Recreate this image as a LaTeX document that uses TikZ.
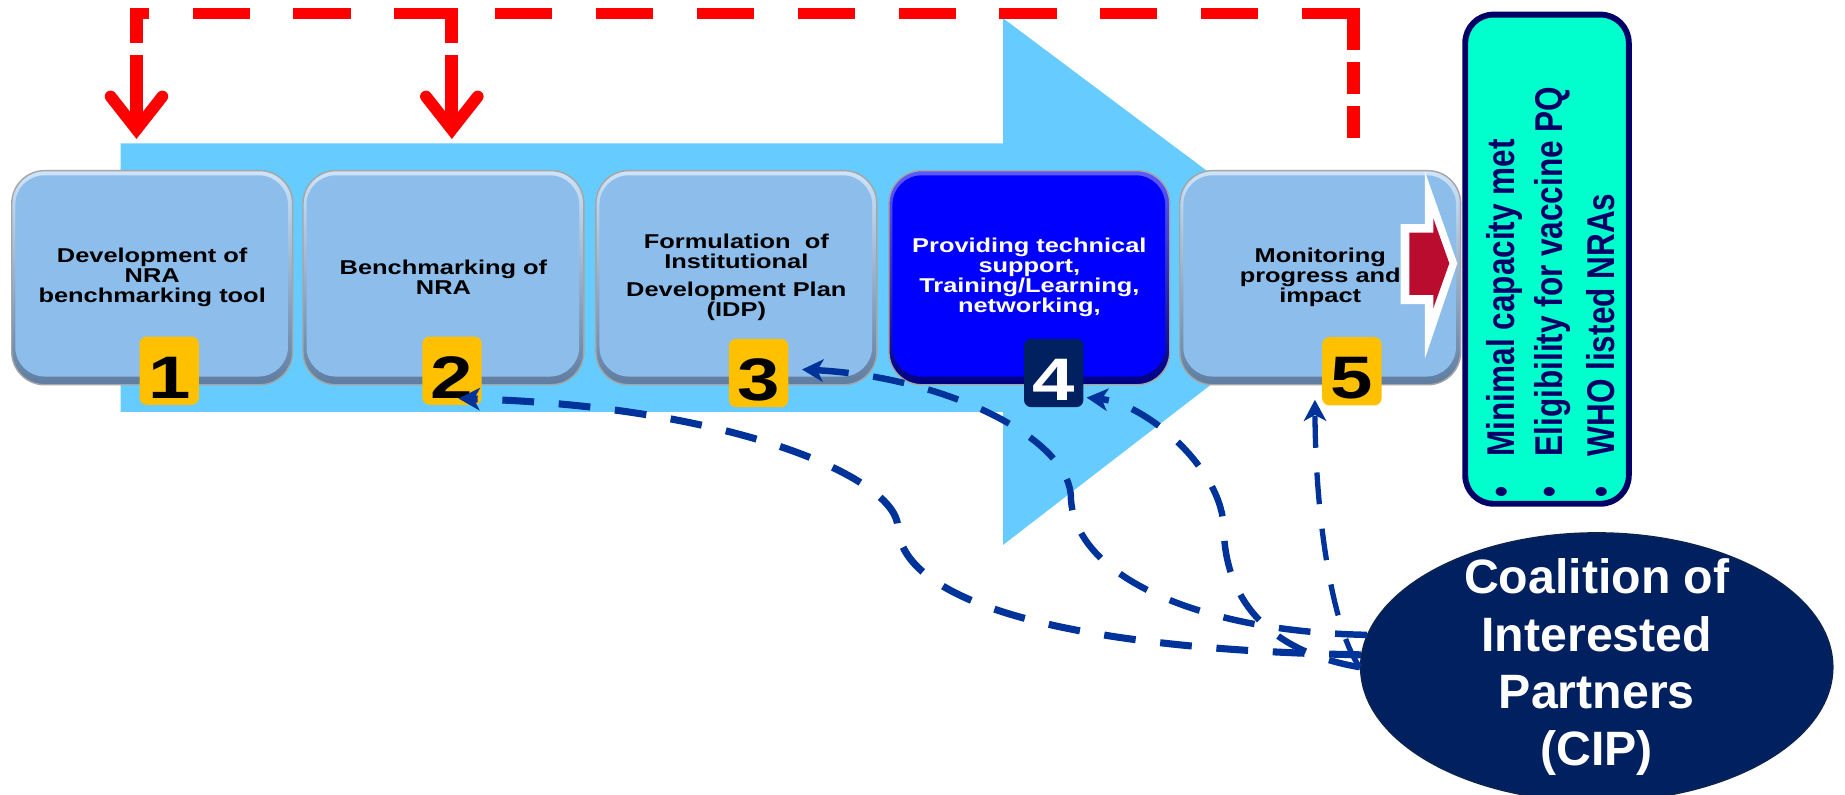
\documentclass[tikz,border=0pt]{standalone}
\usepackage{graphicx}
\usepackage{fontspec}
\setmainfont{Liberation Sans}
\newfontfamily\widebold[FakeStretch=1.27]{Liberation Sans Bold}
\newfontfamily\plainbold{Liberation Sans Bold}
\usetikzlibrary{shapes.geometric,arrows.meta}

\definecolor{flowblue}{RGB}{102,204,255}
\definecolor{stepfill}{RGB}{141,189,235}
\definecolor{stephi}{RGB}{205,228,250}
\definecolor{steplo}{RGB}{95,125,160}
\definecolor{stepedge}{RGB}{165,165,165}
\definecolor{activefill}{RGB}{0,0,255}
\definecolor{activehi}{RGB}{90,90,255}
\definecolor{activelo}{RGB}{0,0,130}
\definecolor{badgegold}{RGB}{255,192,0}
\definecolor{navy}{RGB}{0,32,96}
\definecolor{navyedge}{RGB}{10,35,80}
\definecolor{linkblue}{RGB}{0,51,153}
\definecolor{feedbackred}{RGB}{255,0,0}
\definecolor{outcometeal}{RGB}{0,255,204}
\definecolor{outcomenavy}{RGB}{0,0,102}
\definecolor{crimson}{RGB}{186,12,47}

\begin{document}
\begin{tikzpicture}[x=1pt,y=-1pt,
  stepbox/.style={rectangle, rounded corners=28pt, minimum width=238.7pt,
    minimum height=182pt, inner sep=0pt, align=center,
    font=\widebold\fontsize{17}{17}\selectfont,
    top color=stephi, bottom color=steplo, draw=stepedge, line width=1.2pt,
    path picture={\fill[#1, rounded corners=25pt]
      ([shift={(3pt,-4pt)}]path picture bounding box.north west) rectangle
      ([shift={(-4pt,7pt)}]path picture bounding box.south east);}},
  stepbox/.default=stepfill,
  badge/.style={rectangle, rounded corners=6pt, minimum width=50.4pt,
    minimum height=58pt, inner sep=0pt, fill=badgegold, text=black,
    font=\widebold\fontsize{51}{51}\selectfont, text height=47pt, text depth=0pt},
  feedback/.style={draw=feedbackred, line width=9pt},
  feedbackv/.style={draw=feedbackred, line width=11pt},
  chevron/.style={draw=feedbackred, line width=10pt, line cap=round, line join=miter},
  link/.style={draw=linkblue, line width=6pt, dash pattern=on 27pt off 21pt,
    -{Stealth[length=18pt,width=19pt,inset=5pt]}},
  outtext/.style={rotate=90, anchor=base west, inner sep=0pt, text=outcomenavy,
    font=\plainbold\fontsize{26.8}{26.8}\selectfont},
]
\useasboundingbox (0,0) rectangle (1568,675);

% large process arrow behind the steps
\fill[flowblue] (102.5,121.8) -- (852.6,121.8) -- (852.6,15.6) -- (1147,236)
  -- (852.6,463) -- (852.6,350) -- (102.5,350) -- cycle;

% feedback loop from monitoring back to steps 1 and 2
\draw[feedback, dash pattern=on 48.7pt off 37pt, dash phase=32.7pt] (110.7,11.3) -- (1156,11.3);
\draw[feedbackv, dash pattern=on 30pt off 10pt] (116,6.8) -- (116,76);
\draw[feedbackv] (116,75) -- (116,104);
\draw[chevron] (94,82) -- (116,110) -- (138,82);
\draw[feedbackv, dash pattern=on 30pt off 10pt] (384,6.8) -- (384,76);
\draw[feedbackv] (384,75) -- (384,104);
\draw[chevron] (362,82) -- (384,110) -- (406,82);
\draw[feedbackv, dash pattern=on 35.5pt off 10pt on 28pt off 10pt on 28pt off 10pt] (1150,6.8) -- (1150,117.6);

% process steps
\node[stepbox] (s1) at (129.35,236) {Development of\\NRA\\benchmarking tool};
\node[stepbox] (s2) at (376.85,236) {Benchmarking of\\NRA};
\node[stepbox] (s3) at (625.8,236) {Formulation \ of\\Institutional\\[7pt]Development Plan\\(IDP)};
\node[stepbox=activefill, top color=activehi, bottom color=activelo, text=white]
  (s4) at (874.8,236) {Providing technical\\support,\\Training/Learning,\\networking,};
\node[stepbox] (s5) at (1122,236) {Monitoring\\progress and\\impact};

% step numbers
\node[badge] (b1) at (143.8,315) {1};
\node[badge] (b2) at (384.2,315) {2};
\node[badge] (b3) at (644.7,317) {3};
\node[badge, fill=navy, text=white] (b4) at (895.5,317) {4};
\node[badge] (b5) at (1148.9,315.5) {5};

% outcome arrow inside the last step
\fill[white] (1190.3,190.4) -- (1211,190.4) -- (1211,145.9) -- (1238.5,223.8)
  -- (1211,304.5) -- (1211,258.4) -- (1190.3,258.4) -- cycle;
\fill[crimson] (1197.7,197.7) -- (1218.1,197.7) -- (1218.1,185.5) -- (1231.7,223.8)
  -- (1218.1,262) -- (1218.1,250.7) -- (1197.7,250.7) -- cycle;

% outcomes
\node[draw=outcomenavy, line width=5pt, fill=outcometeal, rounded corners=24pt,
  minimum width=139pt, minimum height=415.7pt, inner sep=0pt] (outcome) at (1314.75,220.25) {};
\node[outtext] (o1) at (1287,423.4) {\scalebox{1}[1.23]{\textbullet\hspace{26pt}Minimal capacity met}};
\node[outtext] (o2) at (1327.7,423.4) {\scalebox{1}[1.23]{\textbullet\hspace{26pt}Eligibility for vaccine PQ}};
\node[outtext] (o3) at (1371.9,423.4) {\scalebox{1}[1.23]{\textbullet\hspace{26pt}WHO listed NRAs}};

% partners
\node[ellipse, minimum width=401pt, minimum height=228pt, inner sep=0pt,
  fill=navy, draw=navyedge, line width=1.5pt] (cip) at (1357,567) {};
\node[text=white, align=center, inner sep=0pt,
  font=\plainbold\fontsize{41}{48.6}\selectfont] (cipname) at (cip.center)
  {Coalition of\\Interested\\Partners\\(CIP)};

% partner support links
\draw[link] (cip.177) .. controls (900,552) and (765,510) .. (763,447)
  .. controls (760,405) and (620,345) .. ([shift={(5.5,-5.5)}]b2.south);
\draw[link, line width=5.5pt] (cip.172) .. controls (1020,537) and (910,490) .. (910,420)
  .. controls (905,370) and (800,320) .. ([shift={(11.5,-3)}]b3.east);
\draw[link, line width=5.5pt] (cip.west) .. controls (1090,556) and (1042,520) .. (1040,450)
  .. controls (1040,400) and (975,343) .. ([shift={(2.5,-8.3)}]b4.south east);
\draw[link, line width=4.5pt] (cip.west) .. controls (1135,540) and (1118,450)
  .. ([shift={(-6,-5)}]b5.south west);
\end{tikzpicture}
\end{document}
